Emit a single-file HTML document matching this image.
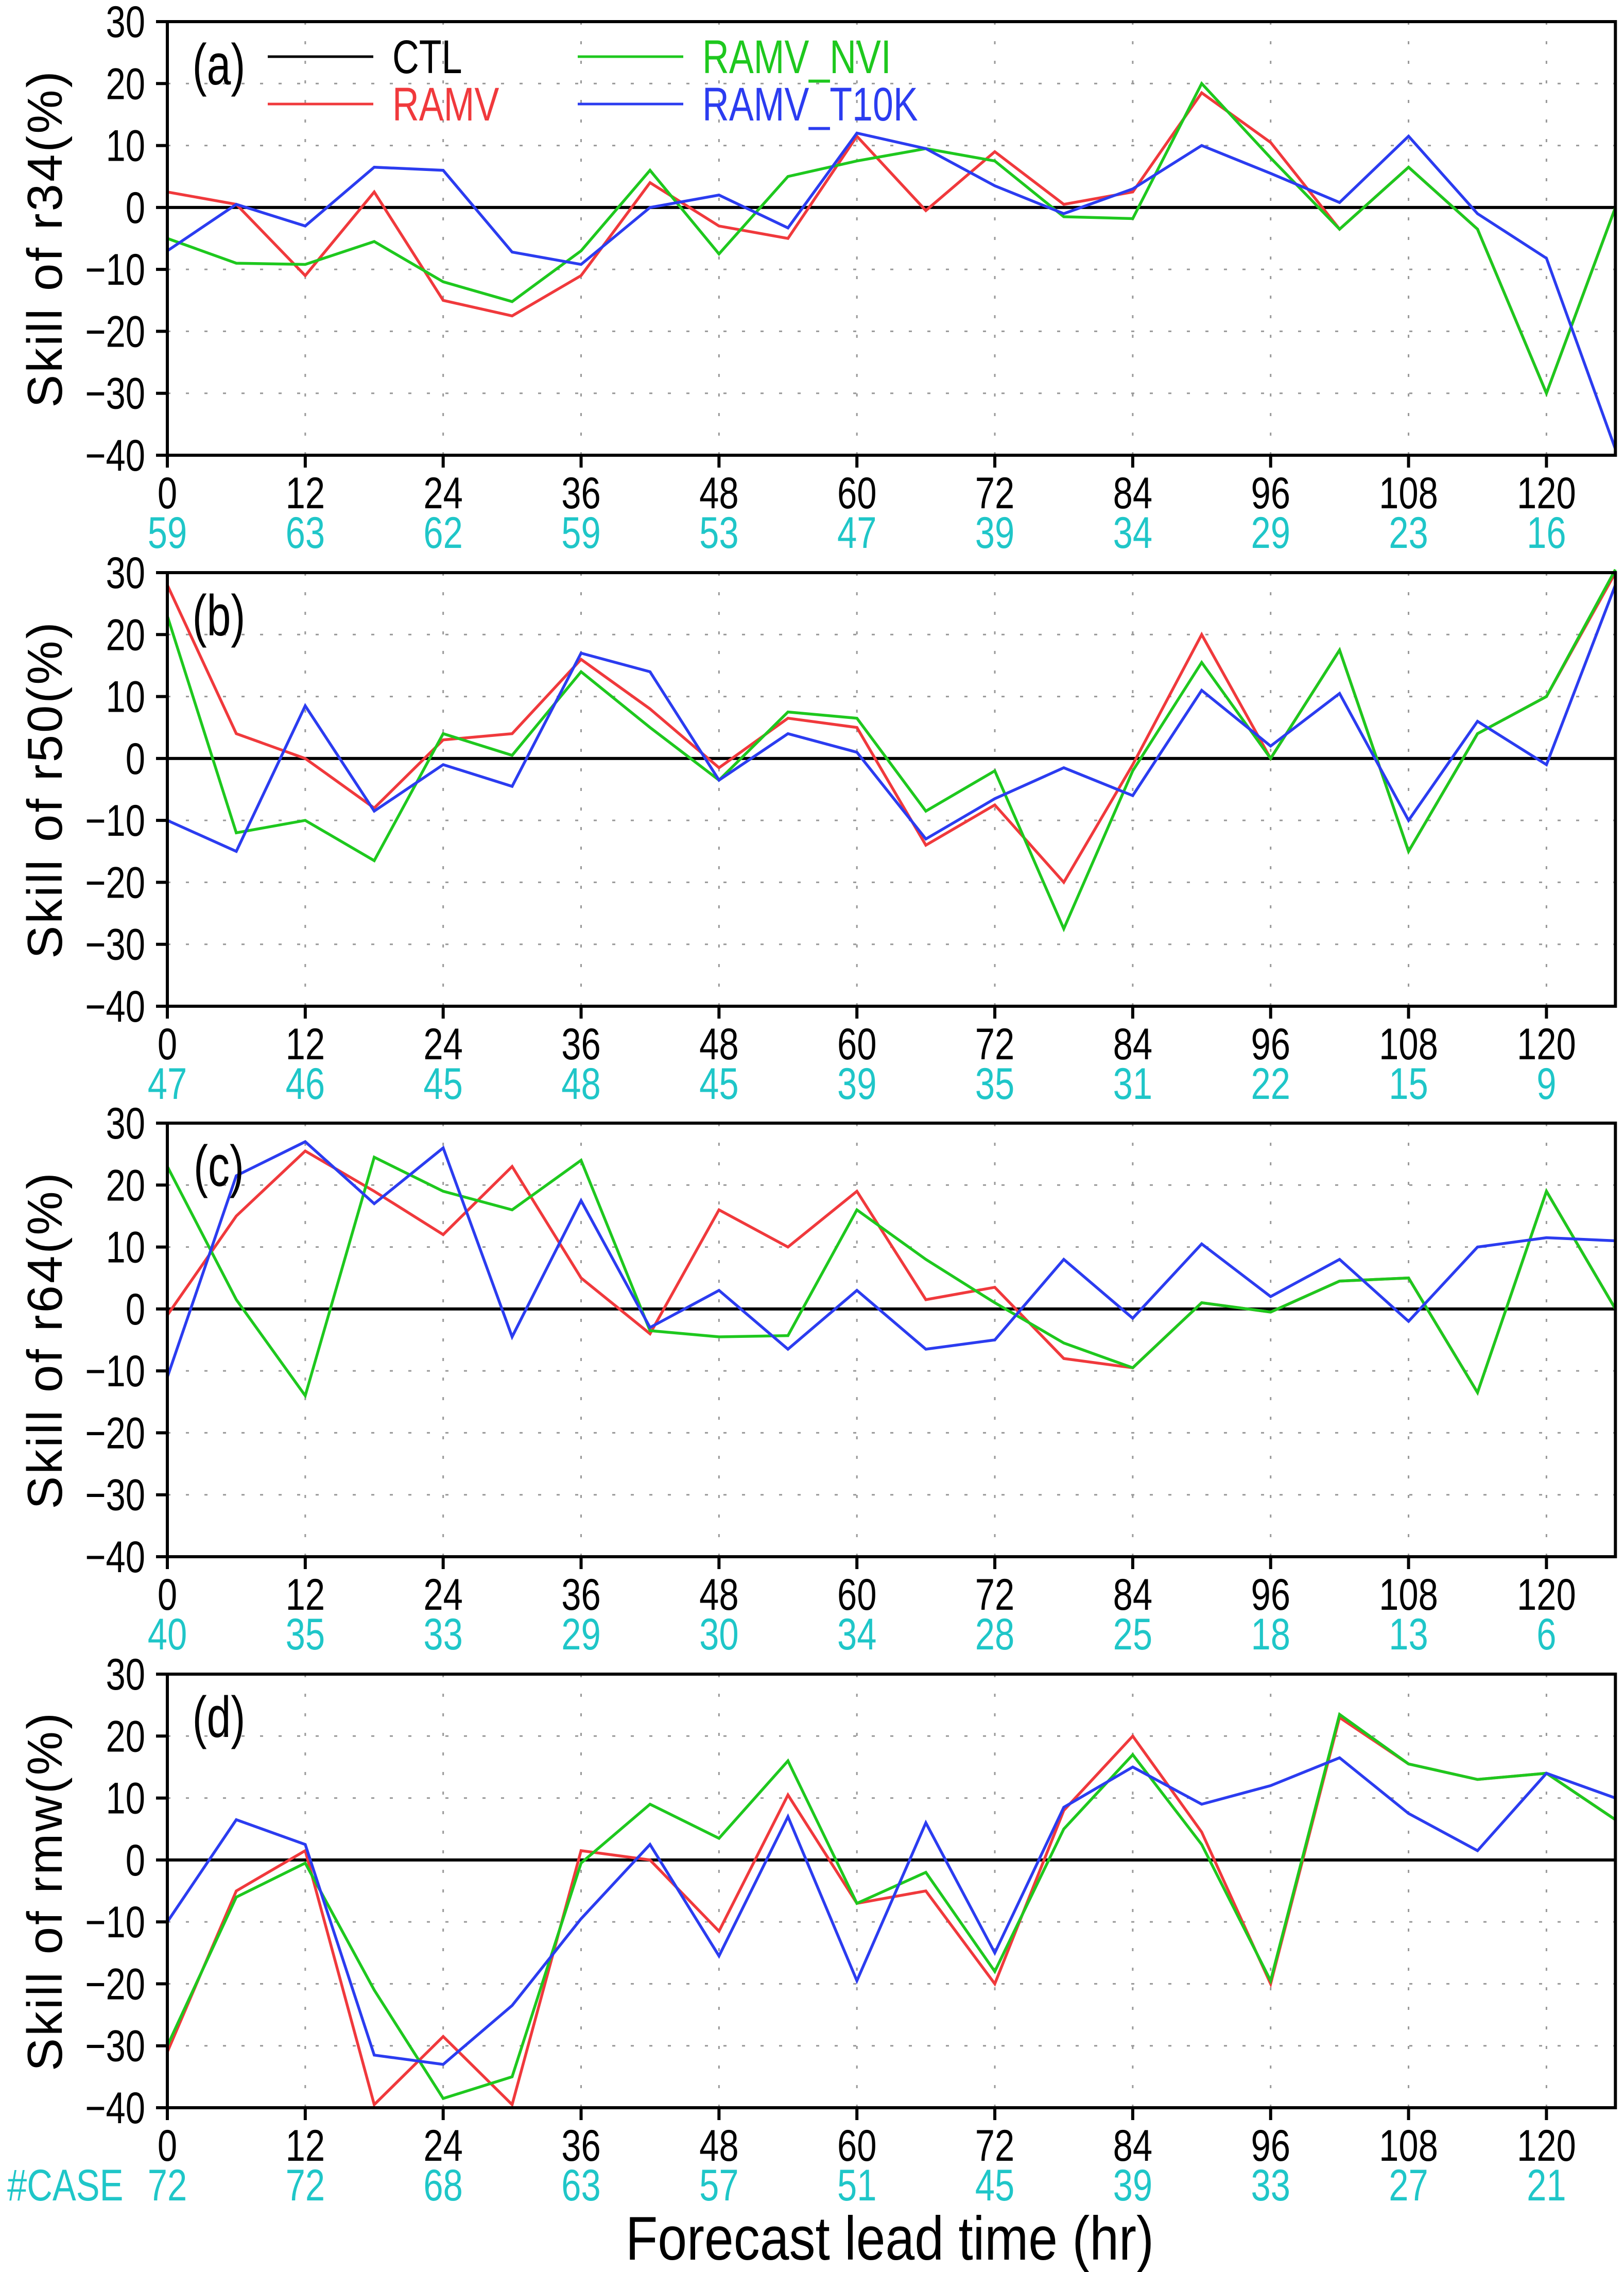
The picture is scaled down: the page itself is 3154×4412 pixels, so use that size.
<!DOCTYPE html>
<html><head><meta charset="utf-8">
<style>
html,body{margin:0;padding:0;background:#fff;}
svg{display:block;font-family:"Liberation Sans",sans-serif;}
</style></head>
<body>
<svg id="chart" width="3154" height="4412" viewBox="0 0 3154 4412" xmlns="http://www.w3.org/2000/svg"></svg>
<script>
const hours = [0,6,12,18,24,30,36,42,48,54,60,66,72,78,84,90,96,102,108,114,120,126];
const xTicks = [0,12,24,36,48,60,72,84,96,108,120];
const yTicks = [30,20,10,0,-10,-20,-30,-40];
const panelKeys = ['a','b','c','d'];
const panelVars = ['r34','r50','r64','rmw'];
const casesA = [59,63,62,59,53,47,39,34,29,23,16];
const casesB = [47,46,45,48,45,39,35,31,22,15,9];
const casesC = [40,35,33,29,30,34,28,25,18,13,6];
const casesD = [72,72,68,63,57,51,45,39,33,27,21];
const ramvA = [2.5,0.5,-11,2.5,-15,-17.5,-11,4,-3,-5,11.5,-0.5,9,0.5,2.5,18.5,10.5,-3.5,6.5,-3.5,-30,0];
const nviA  = [-5,-9,-9.2,-5.5,-12,-15.2,-7,6,-7.5,5,7.5,9.5,7.5,-1.5,-1.8,20,8,-3.5,6.5,-3.5,-30,0];
const t10kA = [-7,0.5,-3,6.5,6,-7.2,-9.2,0,2,-3.3,12,9.5,3.5,-1,3,10,5.5,0.8,11.5,-1,-8.2,-39];
const ramvB = [28,4,0,-8,3,4,16,8,-1.5,6.5,5,-14,-7.5,-20,-1,20,0,17.5,-15,4,10,30];
const nviB  = [23,-12,-10,-16.5,4,0.5,14,5,-3.5,7.5,6.5,-8.5,-2,-27.5,-2,15.5,0,17.5,-15,4,10,30.5];
const t10kB = [-10,-15,8.5,-8.5,-1,-4.5,17,14,-3.5,4,1,-13,-6.5,-1.5,-6,11,2,10.5,-10,6,-1,28];
const ramvC = [-1,15,25.5,19,12,23,5,-4,16,10,19,1.5,3.5,-8,-9.5,1,-0.5,4.5,5,-13.5,19,0];
const nviC  = [23,1.5,-14,24.5,19,16,24,-3.5,-4.5,-4.3,16,8,1,-5.5,-9.5,1,-0.5,4.5,5,-13.5,19,0];
const t10kC = [-11,21.5,27,17,26,-4.5,17.5,-3,3,-6.5,3,-6.5,-5,8,-1.5,10.5,2,8,-2,10,11.5,11];
const ramvD = [-31,-5,1.5,-39.5,-28.5,-39.5,1.5,0,-11.5,10.5,-7,-5,-20,8,20,4.5,-20,23,15.5,13,14,6.5];
const nviD  = [-30,-6,-0.5,-21,-38.5,-35,-0.5,9,3.5,16,-7,-2,-18,5,17,2.5,-19.5,23.5,15.5,13,14,6.5];
const t10kD = [-10,6.5,2.5,-31.5,-33,-23.5,-9.5,2.5,-15.5,7,-19.5,6,-15,8.5,15,9,12,16.5,7.5,1.5,14,10];

const svg = document.getElementById('chart');
const NS = 'http://www.w3.org/2000/svg';
const X0 = 325, PXH = 22.32, XR = X0 + 126*PXH;
const tops = [42,1112,2181,3251], PH = 842;
const cases = [casesA,casesB,casesC,casesD];
const series = [[ramvA,nviA,t10kA],[ramvB,nviB,t10kB],[ramvC,nviC,t10kC],[ramvD,nviD,t10kD]];
const colors = ['#f0393c','#1ec81e','#2b3cf0'];
const snames = ['ramv','ramv-nvi','ramv-t10k'];
function xs(h){return X0 + h*PXH;}
function mk(tag, attrs, parent){const e=document.createElementNS(NS,tag);for(const k in attrs)e.setAttribute(k,attrs[k]);(parent||svg).appendChild(e);return e;}
function txt(s, x, y, size, fill, anchor, parent, sx){
  const t = mk('text',{x:x,y:y,'font-size':size,fill:fill,'text-anchor':anchor||'middle'},parent);
  if(sx){t.setAttribute('transform','translate('+x+' '+y+') scale('+sx+' 1) translate('+(-x)+' '+(-y)+')');}
  t.textContent = s; return t;
}
for(let p=0;p<4;p++){
  const top = tops[p];
  const ys = v => top + (30 - v)/70*PH;
  const g = mk('g',{});
  
  
  for(const v of yTicks){ if(v===30||v===-40||v===0) continue;
    const l = mk('line',{x1:X0,x2:XR,y1:ys(v),y2:ys(v),stroke:'#999','stroke-width':3,'stroke-dasharray':'6 30'},g);
     
  }
  for(const h of xTicks){ if(h===0) continue;
    const l = mk('line',{x1:xs(h),x2:xs(h),y1:top,y2:top+PH,stroke:'#999','stroke-width':3,'stroke-dasharray':'6 32'},g);
     
  }
  const z = mk('line',{x1:X0,x2:XR,y1:ys(0),y2:ys(0),stroke:'#000','stroke-width':6},g);
   
  for(let s=0;s<3;s++){
    const pts = hours.map((h,i)=>xs(h).toFixed(1)+','+ys(series[p][s][i]).toFixed(1)).join(' ');
    const pl = mk('polyline',{points:pts,fill:'none',stroke:colors[s],'stroke-width':5.5,'stroke-linejoin':'miter'},g);
    
    
  }
  const fr = mk('rect',{x:X0,y:top,width:XR-X0,height:PH,fill:'none',stroke:'#000','stroke-width':6},g);
   
  for(const v of yTicks){
    mk('line',{x1:X0-22,x2:X0,y1:ys(v),y2:ys(v),stroke:'#000','stroke-width':6},g);
    const t = txt(String(v).replace('-','\u2212'), 282, ys(v)+30, 86, '#000', 'end', g, 0.8);
     
  }
  for(let i=0;i<xTicks.length;i++){
    const h = xTicks[i];
    mk('line',{x1:xs(h),x2:xs(h),y1:top+PH,y2:top+PH+24,stroke:'#000','stroke-width':6},g);
    const t = txt(String(h), xs(h), top+PH+103, 86, '#000', 'middle', g, 0.8);
     
    const c = txt(String(cases[p][i]), xs(h), top+PH+180, 86, '#1fc6c8', 'middle', g, 0.8);
     
  }
  const cy = top + PH/2;
  const yt = mk('text',{x:0,y:0,'font-size':96,'letter-spacing':4,fill:'#000','text-anchor':'middle',transform:'translate(120 '+cy+') rotate(-90)'},g);
  yt.textContent = 'Skill  of  '+panelVars[p]+'(%)';
   
  const pl = txt('('+panelKeys[p]+')', 425, top+122, 112, '#000', 'middle', g, 0.75);
   
}
const lg = mk('g',{});


const legend = [['CTL','#000',520,110,762],['RAMV','#f0393c',520,202,762],['RAMV_NVI','#1ec81e',1122,110,1364],['RAMV_T10K','#2b3cf0',1122,202,1364]];
for(const [name,col,x,y,tx] of legend){
  mk('line',{x1:x,x2:x+205,y1:y,y2:y,stroke:col,'stroke-width':5},lg);
  const t = txt(name, tx, y+32, 92, col, 'start', lg, 0.78);
   
}
const ct = txt('#CASE', 14, tops[3]+PH+180, 86, '#1fc6c8', 'start', null, 0.8);
 
const xt = txt('Forecast lead time (hr)', 1728, 4388, 120, '#000', 'middle', null, 0.85);
 
</script>
</body></html>
